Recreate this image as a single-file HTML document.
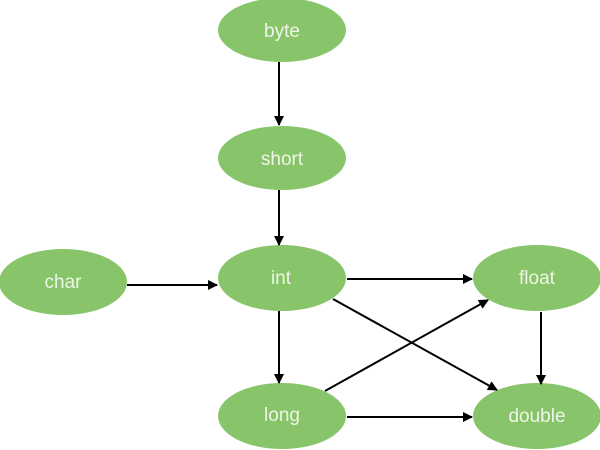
<!DOCTYPE html>
<html><head><style>body{margin:0;background:#fff}svg{display:block}</style></head><body>
<svg width="600" height="450" viewBox="0 0 600 450">
<defs><marker id="a" markerWidth="10" markerHeight="10" refX="9" refY="5" orient="auto" markerUnits="userSpaceOnUse"><path d="M0,0 L10,5 L0,10z" fill="#000"/></marker></defs>
<g fill="#88c56a">
<ellipse cx="282" cy="30" rx="64" ry="32"/>
<ellipse cx="282" cy="158" rx="64" ry="32"/>
<ellipse cx="282" cy="278" rx="64" ry="33"/>
<ellipse cx="282" cy="416" rx="64" ry="33"/>
<ellipse cx="63" cy="282" rx="64" ry="33"/>
<ellipse cx="537" cy="278" rx="64" ry="33"/>
<ellipse cx="537" cy="416" rx="64" ry="33"/>
</g>
<g stroke="#000" stroke-width="2" marker-end="url(#a)">
<line x1="279" y1="62" x2="279" y2="125"/>
<line x1="279" y1="190" x2="279" y2="245"/>
<line x1="127" y1="285" x2="217" y2="285"/>
<line x1="347" y1="279" x2="472" y2="279"/>
<line x1="279" y1="311" x2="279" y2="383"/>
<line x1="347" y1="417" x2="472" y2="417"/>
<line x1="333" y1="299" x2="497" y2="390"/>
<line x1="325" y1="391" x2="488" y2="300"/>
<line x1="541" y1="312" x2="541" y2="384"/>
</g>
<g fill="#eef5e8" font-family="Liberation Sans, sans-serif" font-size="19" text-anchor="middle">
<text x="282" y="37">byte</text>
<text x="282" y="165">short</text>
<text x="281" y="284">int</text>
<text x="282" y="421">long</text>
<text x="63" y="288">char</text>
<text x="537" y="284">float</text>
<text x="537" y="422">double</text>
</g>
</svg>
</body></html>
